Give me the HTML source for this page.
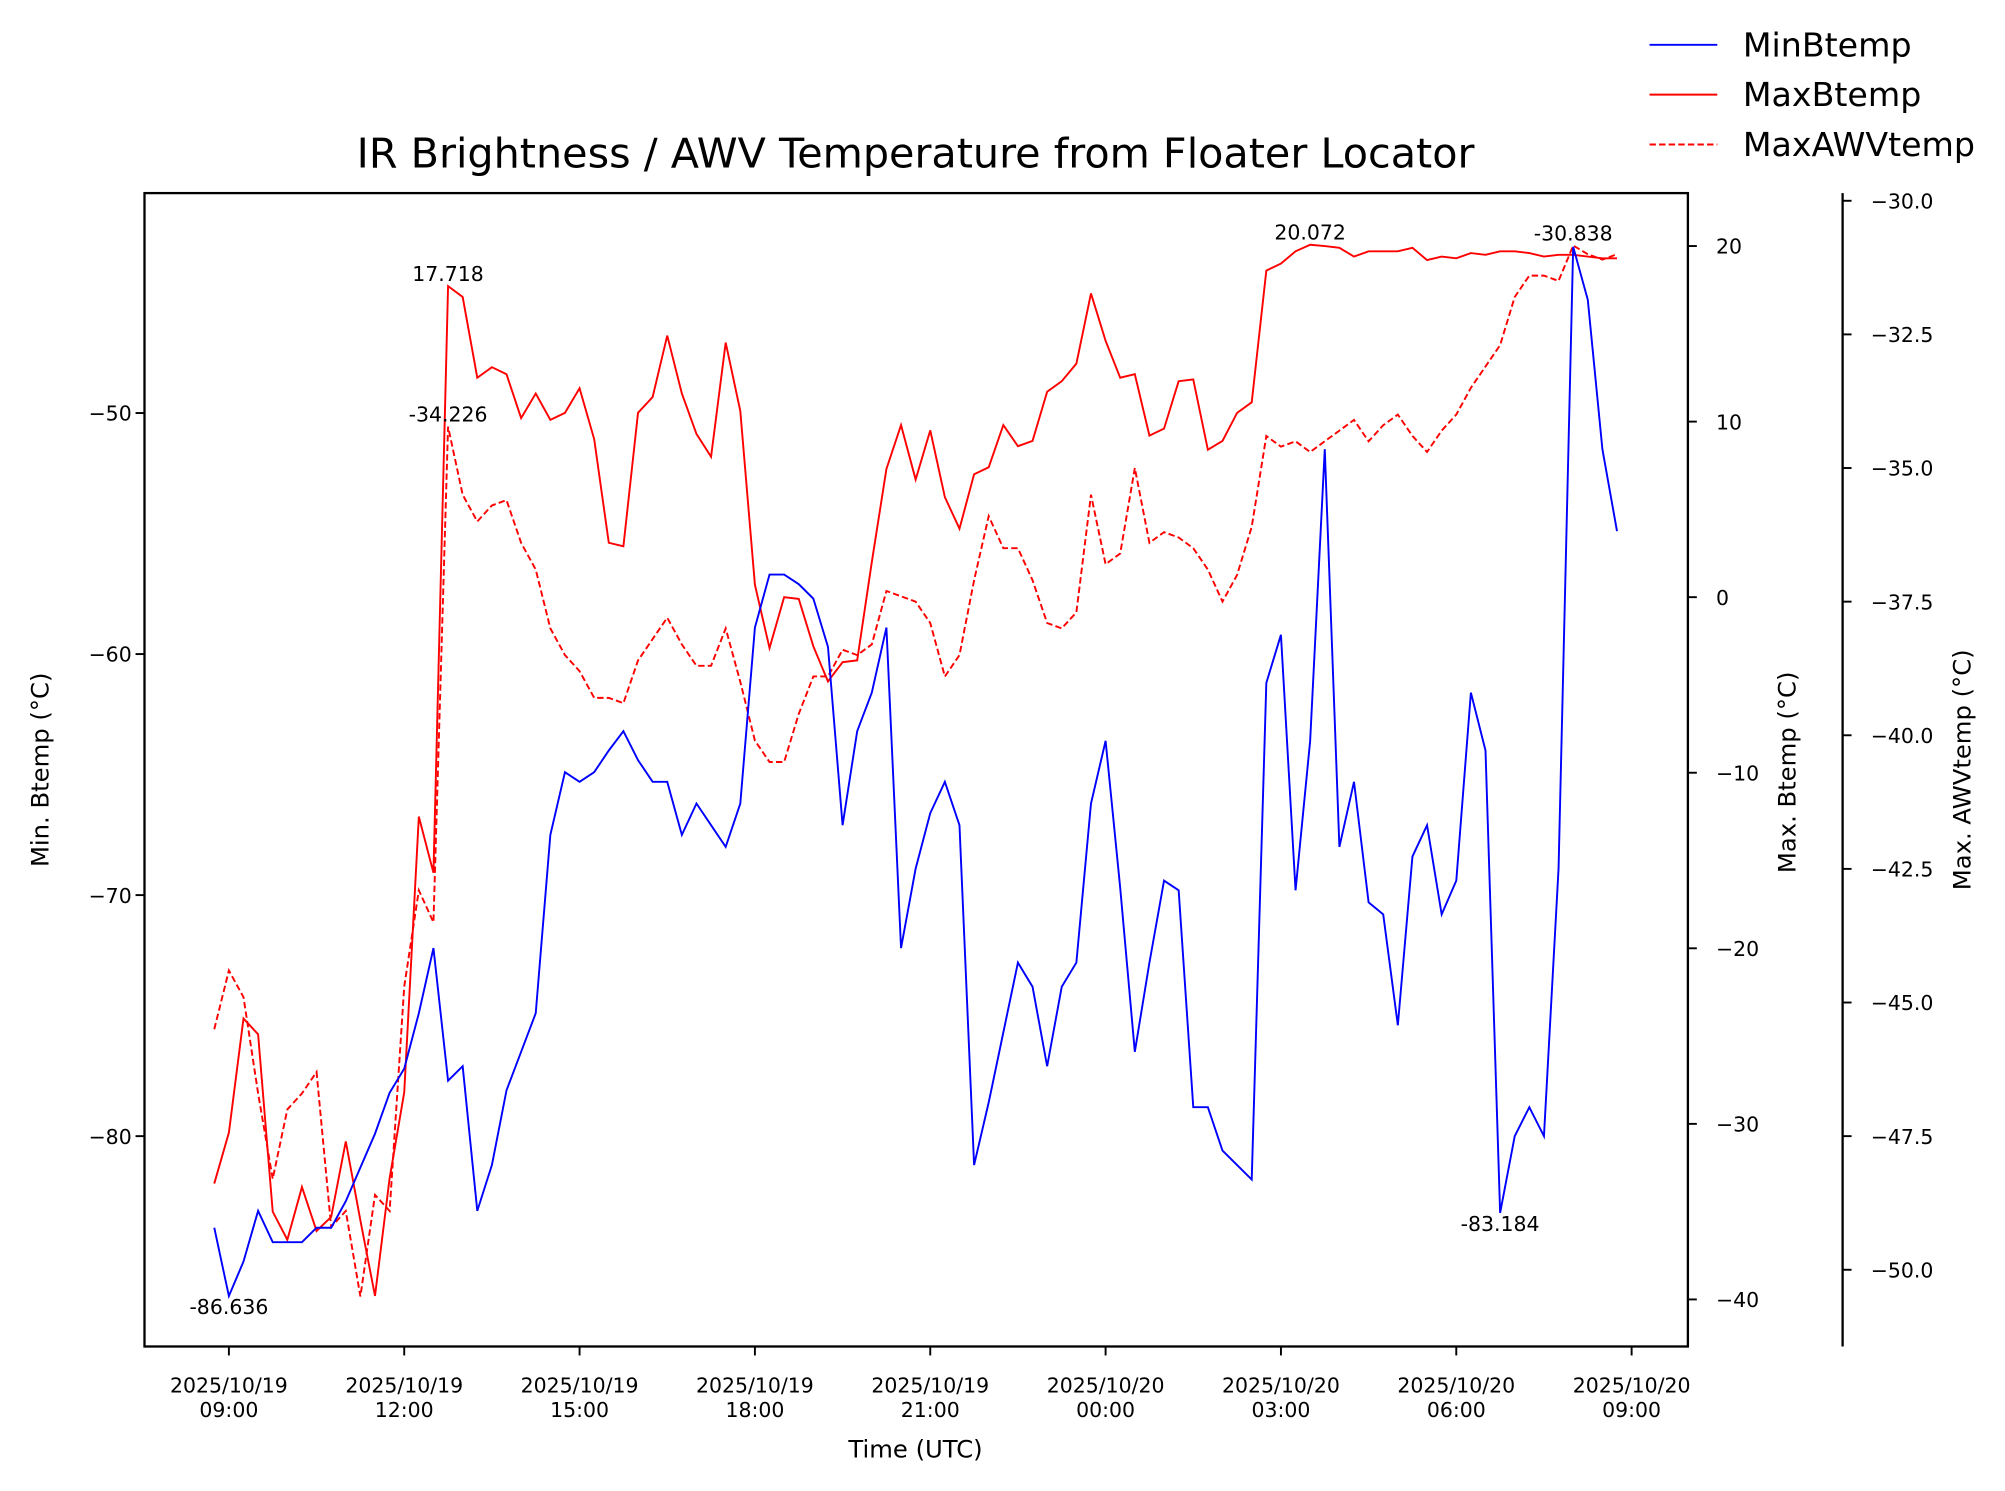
<!DOCTYPE html>
<html><head><meta charset="utf-8"><style>
html,body{margin:0;padding:0;background:#fff;}
svg{display:block;font-family:"DejaVu Sans","Liberation Sans",sans-serif;}
</style></head><body>
<svg id="chart" width="2005" height="1491" viewBox="0 0 1568 1166" xmlns="http://www.w3.org/2000/svg">
<rect width="1568" height="1166" fill="#fff"/>
<text x="716" y="131" font-size="32.3" text-anchor="middle">IR Brightness / AWV Temperature from Floater Locator</text>
<g id="plot"></g>
<g id="axes"></g>
<g id="legend">
  <g><line x1="1290" y1="35" x2="1343" y2="35" stroke="#0000ff" stroke-width="1.5"/><text x="1363" y="44" font-size="26">MinBtemp</text></g>
  <g><line x1="1290" y1="74" x2="1343" y2="74" stroke="#ff0000" stroke-width="1.5"/><text x="1363" y="83" font-size="26">MaxBtemp</text></g>
  <g><line x1="1290" y1="113" x2="1343" y2="113" stroke="#ff0000" stroke-width="1.5" stroke-dasharray="5,2.5"/><text x="1363" y="122" font-size="26">MaxAWVtemp</text></g>
</g>
</svg>
<script>
// time offsets in hours relative to 2025/10/19 09:00 (15-minute steps)
const startHour = -0.25;
const stepHour = 0.25;
const minBtemp = [-83.8,-86.636,-85.2,-83.1,-84.4,-84.4,-84.4,-83.8,-83.8,-82.7,-81.3,-79.9,-78.2,-77.2,-74.9,-72.2,-77.7,-77.1,-83.1,-81.2,-78.1,-76.5,-74.9,-67.5,-64.9,-65.3,-64.9,-64.0,-63.2,-64.4,-65.3,-65.3,-67.5,-66.2,-67.1,-68.0,-66.2,-58.9,-56.7,-56.7,-57.1,-57.7,-59.7,-67.1,-63.2,-61.6,-58.9,-72.2,-68.9,-66.6,-65.3,-67.1,-81.2,-78.6,-75.7,-72.8,-73.8,-77.1,-73.8,-72.8,-66.2,-63.6,-69.7,-76.5,-72.8,-69.4,-69.8,-78.8,-78.8,-80.6,-81.2,-81.8,-61.2,-59.2,-69.8,-63.6,-51.5,-68.0,-65.3,-70.3,-70.8,-75.4,-68.4,-67.1,-70.8,-69.4,-61.6,-64.0,-83.184,-80.0,-78.8,-80.0,-68.9,-43.1,-45.3,-51.5,-54.9];
const maxBtemp = [-33.4,-30.5,-24.0,-24.9,-35.0,-36.6,-33.6,-36.1,-35.3,-31.0,-35.5,-39.8,-33.1,-28.2,-12.5,-15.7,17.718,17.1,12.5,13.1,12.7,10.2,11.6,10.1,10.5,11.9,9.0,3.1,2.9,10.5,11.4,14.9,11.6,9.3,8.0,14.5,10.6,0.7,-2.9,0.0,-0.1,-2.8,-4.8,-3.7,-3.6,2.0,7.3,9.8,6.7,9.5,5.7,3.9,7.0,7.4,9.8,8.6,8.9,11.7,12.3,13.3,17.3,14.6,12.5,12.7,9.2,9.6,12.3,12.4,8.4,8.9,10.5,11.1,18.6,19.0,19.7,20.072,20.0,19.9,19.4,19.7,19.7,19.7,19.9,19.2,19.4,19.3,19.6,19.5,19.7,19.7,19.6,19.4,19.5,19.5,19.4,19.3,19.3];
const maxAWVtemp = [-45.5,-44.4,-44.9,-46.7,-48.3,-47.0,-46.7,-46.3,-49.2,-48.9,-50.5,-48.6,-48.9,-44.7,-42.9,-43.5,-34.226,-35.5,-36.0,-35.7,-35.6,-36.4,-36.9,-38.0,-38.5,-38.8,-39.3,-39.3,-39.4,-38.6,-38.2,-37.8,-38.3,-38.7,-38.7,-38.0,-39.0,-40.1,-40.5,-40.5,-39.6,-38.9,-38.9,-38.4,-38.5,-38.3,-37.3,-37.4,-37.5,-37.9,-38.9,-38.5,-37.1,-35.9,-36.5,-36.5,-37.1,-37.9,-38.0,-37.7,-35.5,-36.8,-36.6,-35.0,-36.4,-36.2,-36.3,-36.5,-36.9,-37.5,-37.0,-36.1,-34.4,-34.6,-34.5,-34.7,-34.5,-34.3,-34.1,-34.5,-34.2,-34.0,-34.4,-34.7,-34.3,-34.0,-33.5,-33.1,-32.7,-31.8,-31.4,-31.4,-31.5,-30.838,-31.0,-31.1,-31.0];
const xTickHours = [0,3,6,9,12,15,18,21,24];
const xTickLabels = [["2025/10/19","09:00"],["2025/10/19","12:00"],["2025/10/19","15:00"],["2025/10/19","18:00"],["2025/10/19","21:00"],["2025/10/20","00:00"],["2025/10/20","03:00"],["2025/10/20","06:00"],["2025/10/20","09:00"]];
const leftTicks = [-50,-60,-70,-80];
const rightTicks = [20,10,0,-10,-20,-30,-40];
const awvTicks = [-30.0,-32.5,-35.0,-37.5,-40.0,-42.5,-45.0,-47.5,-50.0];

const NS = "http://www.w3.org/2000/svg";
const L = 113, R = 1320, T = 151, B = 1053, AX3 = 1441;
const FS = 16;
const xOf = h => 179 + (h) * (1097/24);
const yMin = v => 323 + (-50 - v) * 18.85;
const yMax = v => 467 - v * 13.73;
const yAwv = v => 157 + (-30 - v) * 41.8;
const hourOf = i => startHour + i * stepHour;
function el(tag, attrs, parent, txt) {
  const e = document.createElementNS(NS, tag);
  for (const k in attrs) e.setAttribute(k, attrs[k]);
  if (txt !== undefined) e.textContent = txt;
  parent.appendChild(e); return e;
}
const plot = document.getElementById('plot');
const axes = document.getElementById('axes');
function fmt(v){ return v < 0 ? '\u2212' + Math.abs(v) : String(v); }

function drawSeries(data, yf, color, dash, name) {
  const pts = data.map((v, i) => xOf(hourOf(i)).toFixed(2) + ',' + yf(v).toFixed(2)).join(' ');
  const p = el('polyline', {points: pts, fill: 'none', stroke: color, 'stroke-width': 1.5, 'stroke-linejoin': 'miter'}, plot);
  if (dash) p.setAttribute('stroke-dasharray', '5,2.5');
  
  
}
drawSeries(maxAWVtemp, yAwv, '#ff0000', true, 'maxawvtemp-line');
drawSeries(maxBtemp, yMax, '#ff0000', false, 'maxbtemp-line');
drawSeries(minBtemp, yMin, '#0000ff', false, 'minbtemp-line');

function annotateRange(data, yf, useMax, a, b, dy, name) {
  let idx = a;
  for (let i = a; i <= b; i++) if (useMax ? data[i] > data[idx] : data[i] < data[idx]) idx = i;
  const t = el('text', {x: xOf(hourOf(idx)), y: yf(data[idx]) + dy, 'font-size': FS, 'text-anchor': 'middle'}, plot, String(data[idx]));
  
  
}
annotateRange(minBtemp, yMin, false, 0, 50, 14, 'min-btemp-annotation');
annotateRange(maxBtemp, yMax, true, 51, 96, -4, 'max-btemp-annotation');
annotateRange(maxAWVtemp, yAwv, true, 51, 96, -4, 'max-awvtemp-annotation');
annotateRange(minBtemp, yMin, false, 60, 96, 14, 'min-btemp-annotation-2');
annotateRange(maxBtemp, yMax, true, 0, 50, -4, 'max-btemp-annotation-2');
annotateRange(maxAWVtemp, yAwv, true, 0, 50, -4, 'max-awvtemp-annotation-2');

const frame = el('rect', {x: L, y: T, width: R - L, height: B - T, fill: 'none', stroke: '#000', 'stroke-width': 1.8}, axes);


const sp3 = el('line', {x1: AX3, y1: T, x2: AX3, y2: B, stroke: '#000', 'stroke-width': 1.8}, axes);



xTickHours.forEach((h, i) => {
  const x = xOf(h);
  el('line', {x1: x, y1: B, x2: x, y2: B + 7, stroke: '#000', 'stroke-width': 1.5}, axes);
  const t = el('text', {x: x, y: 1089, 'font-size': FS, 'text-anchor': 'middle'}, axes);
  
  
  el('tspan', {x: x, dy: 0}, t, xTickLabels[i][0]);
  el('tspan', {x: x, dy: 19}, t, xTickLabels[i][1]);
});
leftTicks.forEach(v => {
  const y = yMin(v);
  el('line', {x1: L - 7, y1: y, x2: L, y2: y, stroke: '#000', 'stroke-width': 1.5}, axes);
  const t = el('text', {x: L - 10, y: y + 6, 'font-size': FS, 'text-anchor': 'end'}, axes, fmt(v));
  
  
});
rightTicks.forEach(v => {
  const y = yMax(v);
  el('line', {x1: R, y1: y, x2: R + 7, y2: y, stroke: '#000', 'stroke-width': 1.5}, axes);
  const t = el('text', {x: R + 22, y: y + 6, 'font-size': FS, 'text-anchor': 'start'}, axes, fmt(v));
  
  
});
awvTicks.forEach(v => {
  const y = yAwv(v);
  el('line', {x1: AX3, y1: y, x2: AX3 + 7, y2: y, stroke: '#000', 'stroke-width': 1.5}, axes);
  const t = el('text', {x: AX3 + 22, y: y + 6, 'font-size': FS, 'text-anchor': 'start'}, axes, (v < 0 ? '\u2212' : '') + Math.abs(v).toFixed(1));
  
  
});
const xl = el('text', {x: 716, y: 1140, 'font-size': 19, 'text-anchor': 'middle'}, axes, 'Time (UTC)');


const yl = el('text', {x: 0, y: 0, 'font-size': 19, 'text-anchor': 'middle', transform: 'translate(38,602) rotate(-90)'}, axes, 'Min. Btemp (°C)');


const yr = el('text', {x: 0, y: 0, 'font-size': 19, 'text-anchor': 'middle', transform: 'translate(1404,604) rotate(-90)'}, axes, 'Max. Btemp (°C)');


const y3 = el('text', {x: 0, y: 0, 'font-size': 19, 'text-anchor': 'middle', transform: 'translate(1541,602) rotate(-90)'}, axes, 'Max. AWVtemp (°C)');


</script>
</body></html>
